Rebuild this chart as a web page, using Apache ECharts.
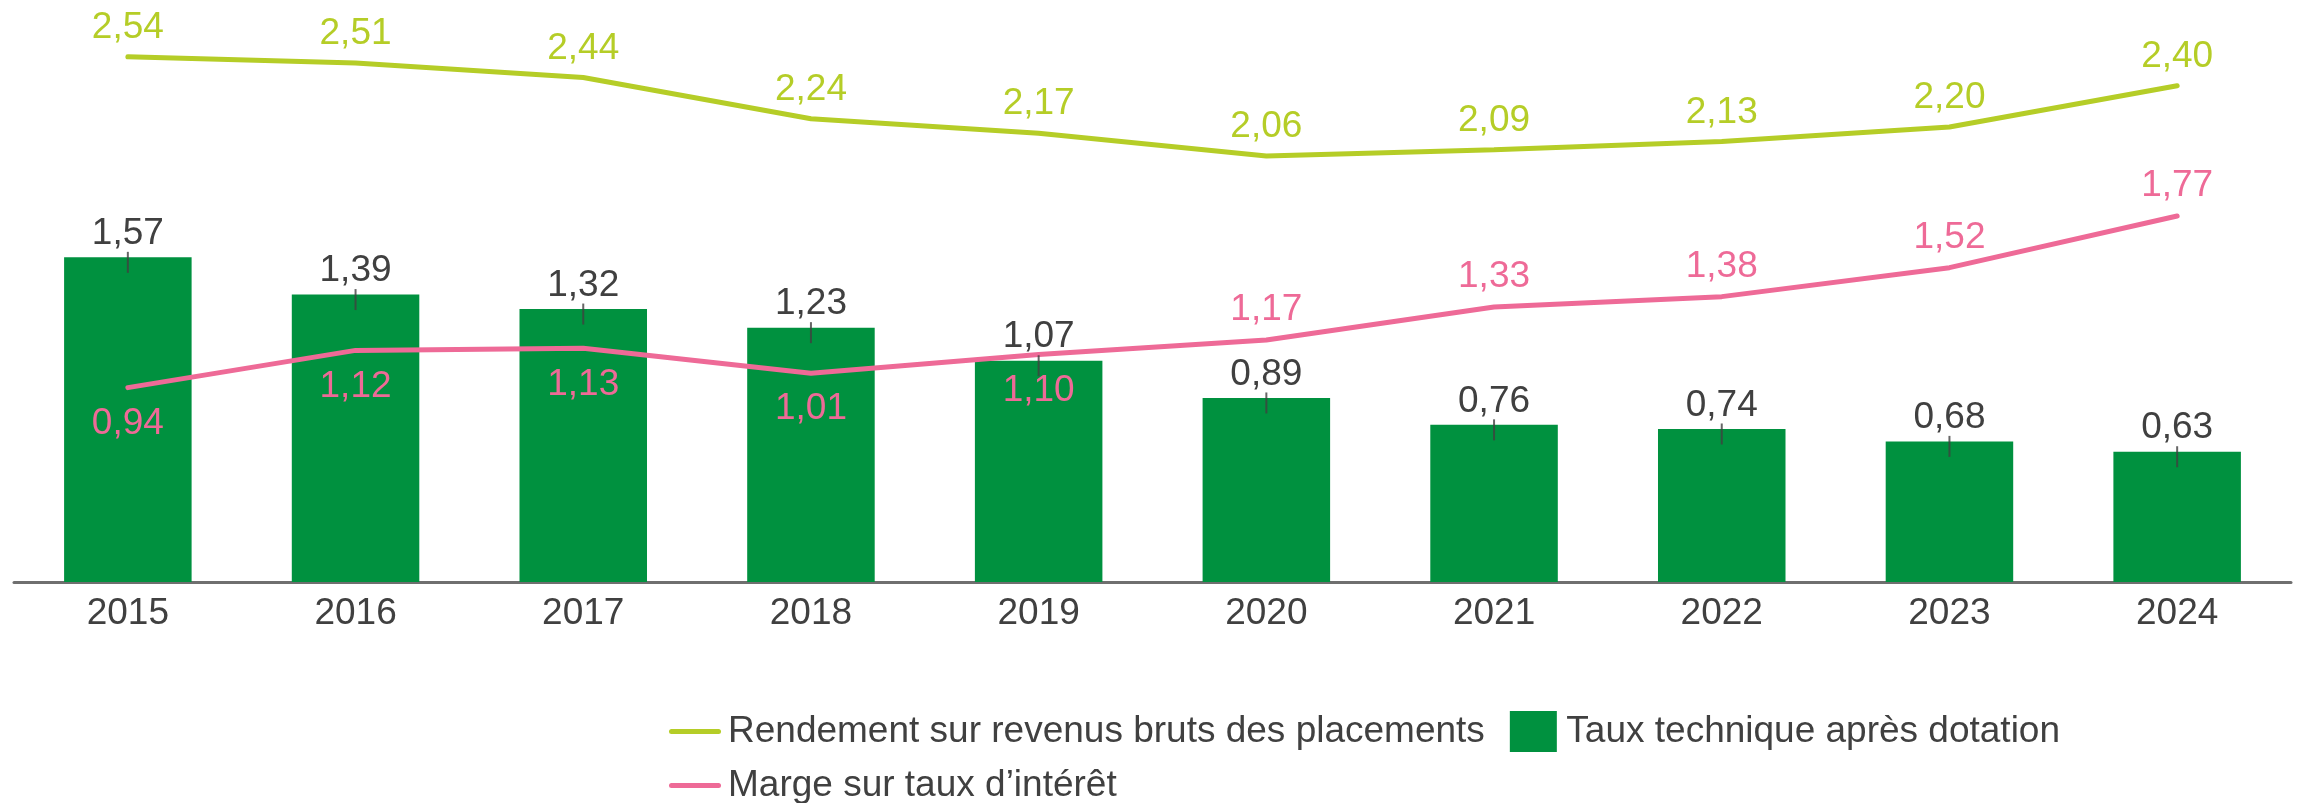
<!DOCTYPE html>
<html>
<head>
<meta charset="utf-8">
<script src="https://cdn.jsdelivr.net/npm/echarts@6/dist/echarts.min.js"></script>
<style>
  html, body { margin: 0; padding: 0; background: #fff; }
  #chart { width: 2300px; height: 803px; }
</style>
</head>
<body>
<div id="chart"></div>
<script>
  // données
  var annees = ['2015', '2016', '2017', '2018', '2019', '2020', '2021', '2022', '2023', '2024']
  var rendement = [2.54, 2.51, 2.44, 2.24, 2.17, 2.06, 2.09, 2.13, 2.20, 2.40]
  var marge = [0.94, 1.12, 1.13, 1.01, 1.10, 1.17, 1.33, 1.38, 1.52, 1.77]
  var tauxTechnique = [1.57, 1.39, 1.32, 1.23, 1.07, 0.89, 0.76, 0.74, 0.68, 0.63]

  var nomRendement = 'Rendement sur revenus bruts des placements'
  var nomMarge = 'Marge sur taux d\u2019intérêt'
  var nomTaux = 'Taux technique après dotation'

  var police = "'Liberation Sans', Arial, sans-serif"
  var gris = '#404040'
  var vertClair = '#b5cd27'
  var rose = '#ee6a97'
  var vert = '#00913f'

  // icônes de légende : trait arrondi et carré
  var iconeTrait = 'path://M2.5,0h47a2.5,2.5 0 0 1 0,5h-47a2.5,2.5 0 0 1 0,-5z'
  var iconeCarre = 'path://M0,0h47v41h-47z'

  // format français : virgule décimale
  function fr(p) {
    return p.value.toFixed(2).replace('.', ',')
  }

  // la marge est étiquetée dessous jusqu'en 2019, dessus ensuite
  var margeData = marge.map(function (v, i) {
    return {
      value: v,
      label: i < 5 ? { position: 'bottom', distance: 17 } : { position: 'top', distance: 11 }
    }
  })

  var chartInstance = echarts.init(document.getElementById('chart'))
  var option = {
    animation: false,
    grid: { left: 14, right: 9, top: 3, bottom: 221 },
    legend: [{
      data: [
        { name: nomRendement, icon: iconeTrait },
        { name: nomTaux, icon: iconeCarre }
      ],
      left: 664,
      top: 706,
      itemWidth: 52,
      itemHeight: 41,
      itemGap: 25,
      textStyle: { fontFamily: police, fontSize: 37, color: gris, padding: [0, 0, 0, 2] }
    }, {
      data: [{ name: nomMarge, icon: iconeTrait }],
      left: 664,
      top: 762,
      itemWidth: 52,
      itemHeight: 41,
      textStyle: { fontFamily: police, fontSize: 37, color: gris, padding: [0, 0, 0, 2] }
    }],
    xAxis: {
      type: 'category',
      data: annees,
      axisLine: { lineStyle: { color: '#6f6f6f', width: 3 } },
      axisTick: { show: false },
      axisLabel: { fontFamily: police, fontSize: 37, color: gris, margin: 13 }
    },
    yAxis: {
      type: 'value',
      min: 0,
      max: 2.8,
      show: false,
      splitLine: { show: false }
    },
    series: [{
      name: nomTaux,
      type: 'bar',
      data: tauxTechnique,
      barWidth: '56%',
      itemStyle: { color: vert },
      label: {
        show: true,
        position: 'top',
        distance: 5,
        formatter: fr,
        fontFamily: police,
        fontSize: 37,
        color: gris
      },
      z: 2
    }, {
      // petits traits verticaux en haut des barres
      name: 'traits',
      type: 'scatter',
      data: tauxTechnique,
      symbol: 'rect',
      symbolSize: [2, 21],
      symbolOffset: [0, 5],
      itemStyle: { color: gris },
      silent: true,
      z: 5
    }, {
      name: nomRendement,
      type: 'line',
      data: rendement,
      symbol: 'circle',
      symbolSize: 1,
      lineStyle: { color: vertClair, width: 5, cap: 'round' },
      itemStyle: { color: vertClair },
      label: {
        show: true,
        position: 'top',
        distance: 10,
        formatter: fr,
        fontFamily: police,
        fontSize: 37,
        color: vertClair
      },
      z: 3
    }, {
      name: nomMarge,
      type: 'line',
      data: margeData,
      symbol: 'circle',
      symbolSize: 1,
      lineStyle: { color: rose, width: 5, cap: 'round' },
      itemStyle: { color: rose },
      label: {
        show: true,
        formatter: fr,
        fontFamily: police,
        fontSize: 37,
        color: rose
      },
      z: 3
    }]
  }
  chartInstance.setOption(option)
</script>
</body>
</html>
